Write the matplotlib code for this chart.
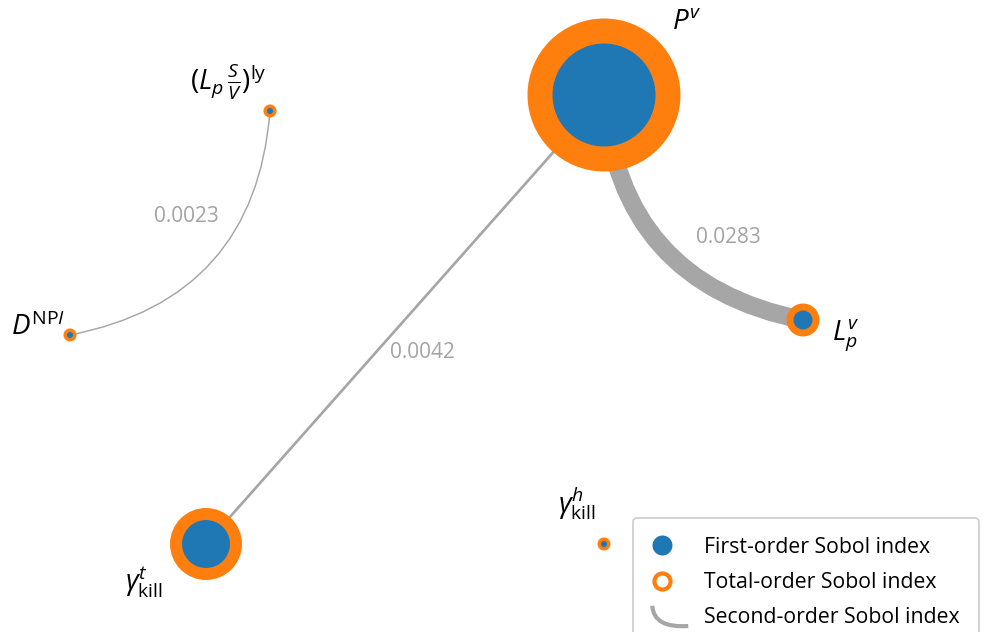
import numpy as np
import matplotlib
matplotlib.use('Agg')
import matplotlib.pyplot as plt
from matplotlib.patches import Circle, FancyArrowPatch, PathPatch
from matplotlib.lines import Line2D
from matplotlib.legend_handler import HandlerBase
from matplotlib.path import Path

plt.rcParams['font.family'] = ['Open Sans', 'DejaVu Sans']
plt.rcParams['mathtext.fontset'] = 'custom'
plt.rcParams['mathtext.rm'] = 'Open Sans'
plt.rcParams['mathtext.it'] = 'Open Sans:italic'
plt.rcParams['mathtext.bf'] = 'Open Sans:bold'

# ---------------- data ----------------
node_labels = [r'$P^v$', r'$L_p^v$', r'$\gamma_{\mathrm{kill}}^h$',
               r'$\gamma_{\mathrm{kill}}^t$', r'$D^{\mathrm{NP}I}$',
               r'$(L_p\,\frac{S}{V})^{\mathrm{ly}}$']
# layout positions of the nodes (pixel-like layout units)
node_x = [604, 803, 604, 206, 70, 270]
node_y = [95, 320, 544, 544, 335, 111]
first_order = [0.515, 0.095, 0.03, 0.24, 0.03, 0.03]
total_order = [0.765, 0.165, 0.065, 0.36, 0.065, 0.065]
edge_pairs = [(0, 1), (0, 3), (4, 5)]
second_order = [0.0283, 0.0042, 0.0023]
edge_labels = ['0.0283', '0.0042', '0.0023']

# ---------------- style ----------------
ORANGE = '#ff7f0e'
BLUE = '#1f77b4'
EDGE = '#a6a6a6'
LABEL_GRAY = '#a3a3a3'
radius_scale = 100.0          # layout units per unit of Sobol index
width_scale = 460.0           # points per unit of second-order index
edge_rad = [0.38, 0.0, 0.38]
edge_label_offset = [(25, 30), (17, 33), (16, -6)]
node_label_offset = [(83, -73), (43, 15), (-27, -40), (-62, 38), (-32, -7), (-42, -29)]

fig = plt.figure(figsize=(9.85, 6.32), dpi=100)
ax = fig.add_axes([0, 0, 1, 1])
ax.set_xlim(0, 985)
ax.set_ylim(632, 0)
ax.axis('off')

# edges
for (i, j), s2, rad, lab, off in zip(edge_pairs, second_order, edge_rad, edge_labels, edge_label_offset):
    p = FancyArrowPatch((node_x[i], node_y[i]), (node_x[j], node_y[j]),
                        connectionstyle=f'arc3,rad={rad}', arrowstyle='-',
                        shrinkA=0, shrinkB=0, lw=s2 * width_scale, color=EDGE,
                        capstyle='butt', zorder=1)
    ax.add_patch(p)
    mx = (node_x[i] + node_x[j]) / 2 + off[0]
    my = (node_y[i] + node_y[j]) / 2 + off[1]
    ax.text(mx, my, lab, color=LABEL_GRAY, fontsize=15, ha='center', va='center', zorder=2)

# nodes
for x, y, s1, st, lab, off in zip(node_x, node_y, first_order, total_order, node_labels, node_label_offset):
    ax.add_patch(Circle((x, y), st * radius_scale, color=ORANGE, lw=0, zorder=3))
    ax.add_patch(Circle((x, y), s1 * radius_scale, color=BLUE, lw=0, zorder=4))
    ax.text(x + off[0], y + off[1], lab, fontsize=20, ha='center', va='center', zorder=5)


# legend
class ArcHandler(HandlerBase):
    def create_artists(self, legend, orig_handle, xdescent, ydescent,
                       width, height, fontsize, trans):
        x0 = -xdescent
        y0 = -ydescent
        verts = [(x0 + 0.03 * width, y0 + height * 1.17),
                 (x0 + 0.10 * width, y0 - 0.35 * height),
                 (x0 + 1.85 * width, y0 - 0.19 * height)]
        path = Path(verts, [Path.MOVETO, Path.CURVE3, Path.CURVE3])
        patch = PathPatch(path, facecolor='none', edgecolor=EDGE, lw=3, transform=trans)
        return [patch]


class ArcProxy:
    pass


h1 = Line2D([], [], ls='none', marker='o', markersize=14.4, markerfacecolor=BLUE,
            markeredgecolor=BLUE, markeredgewidth=0)
h2 = Line2D([], [], ls='none', marker='o', markersize=11.6, markerfacecolor='white',
            markeredgecolor=ORANGE, markeredgewidth=3)
h3 = ArcProxy()
leg = ax.legend([h1, h2, h3],
                ['First-order Sobol index', 'Total-order Sobol index', 'Second-order Sobol index'],
                handler_map={ArcProxy: ArcHandler()},
                loc='upper left', bbox_to_anchor=(633 / 985, 1 - 518 / 632),
                bbox_transform=fig.transFigure, borderaxespad=0,
                fontsize=15.3, borderpad=0.88, handlelength=0.93, handletextpad=1.55,
                labelspacing=0.67, frameon=True, fancybox=True, framealpha=1,
                edgecolor='#cccccc')
leg.get_frame().set_linewidth(1.2)

fig.savefig('out.png', dpi=100)
